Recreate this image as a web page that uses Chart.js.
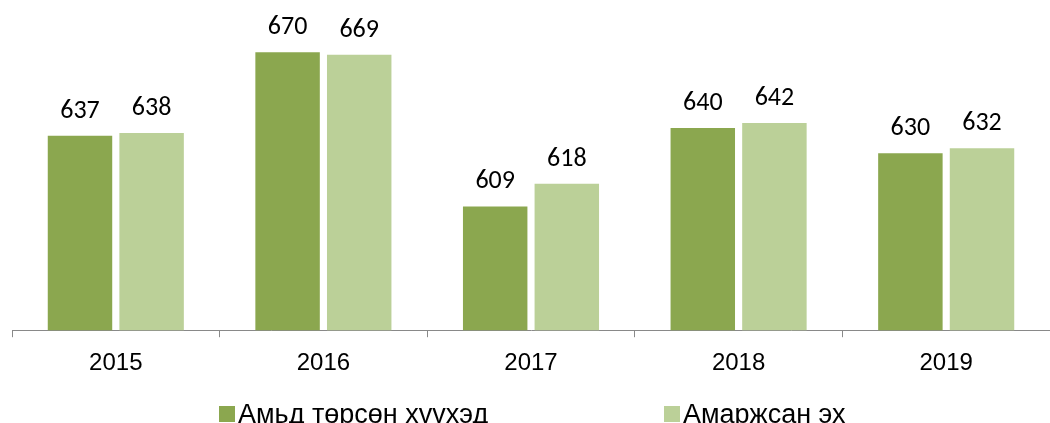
<!DOCTYPE html>
<html><head><meta charset="utf-8">
<script src="https://cdn.jsdelivr.net/npm/chart.js@4"></script>
<style>
html,body{margin:0;padding:0;background:#fff;width:1050px;height:423px;overflow:hidden}
#wrap{position:absolute;left:0;top:0;width:1050px;height:390px}
#legend{position:absolute;left:0;top:0;width:1050px;height:423px;font-family:"Liberation Sans",Arial,sans-serif;font-size:27px;color:#000;pointer-events:none}
.sw{position:absolute;top:406px;width:16px;height:16px}
.tx{position:absolute;top:400px;line-height:28px;white-space:nowrap}
</style></head>
<body>
<div id="wrap"><canvas id="c"></canvas></div>
<div id="legend"></div>
<script>
const categories = ["2015","2016","2017","2018","2019"];
const seriesNames = ["Амьд төрсөн хүүхэд","Амаржсан эх"];
const liveBirths = [637,670,609,640,630];
const mothers = [638,669,618,642,632];
const colors = ["#8BA74F","#BBD098"];

const labelPlugin = {
  id:'vals',
  afterDatasetsDraw(chart){
    const ctx = chart.ctx;
    ctx.save();
    ctx.font = '26px Carlito, Calibri, "Liberation Sans", sans-serif';
    ctx.fillStyle = '#000';
    ctx.textAlign = 'center';
    ctx.textBaseline = 'alphabetic';
    chart.data.datasets.forEach((ds,i)=>{
      chart.getDatasetMeta(i).data.forEach((bar,j)=>{
        ctx.fillText(String(ds.data[j]), bar.x, bar.y - 18);
      });
    });
    ctx.restore();
  }
};

new Chart(document.getElementById('c'),{
  type:'bar',
  data:{
    labels:categories,
    datasets:[
      {label:seriesNames[0],data:liveBirths,backgroundColor:colors[0],categoryPercentage:0.69,barPercentage:0.9},
      {label:seriesNames[1],data:mothers,backgroundColor:colors[1],categoryPercentage:0.69,barPercentage:0.9}
    ]
  },
  options:{
    responsive:true,maintainAspectRatio:false,animation:false,
    layout:{padding:{left:12,right:0,top:27,bottom:0}},
    plugins:{legend:{display:false},tooltip:{enabled:false}},
    scales:{
      y:{display:false,min:560,max:680},
      x:{
        grid:{drawOnChartArea:false,drawTicks:true,tickLength:7,color:'#898989',offset:true},
        border:{color:'#898989',width:1},
        ticks:{color:'#000',font:{family:'"Liberation Sans", Arial, sans-serif',size:24},padding:12}
      }
    }
  },
  plugins:[labelPlugin]
});

const lg = document.getElementById('legend');
const swLefts=[219,664];
const txLefts=[238,683];
seriesNames.forEach((n,i)=>{
  const s=document.createElement('div');s.className='sw';s.style.left=swLefts[i]+'px';s.style.background=colors[i];
  const t=document.createElement('div');t.className='tx';t.style.left=txLefts[i]+'px';t.textContent=n;
  lg.appendChild(s);lg.appendChild(t);
});
</script>
</body></html>
